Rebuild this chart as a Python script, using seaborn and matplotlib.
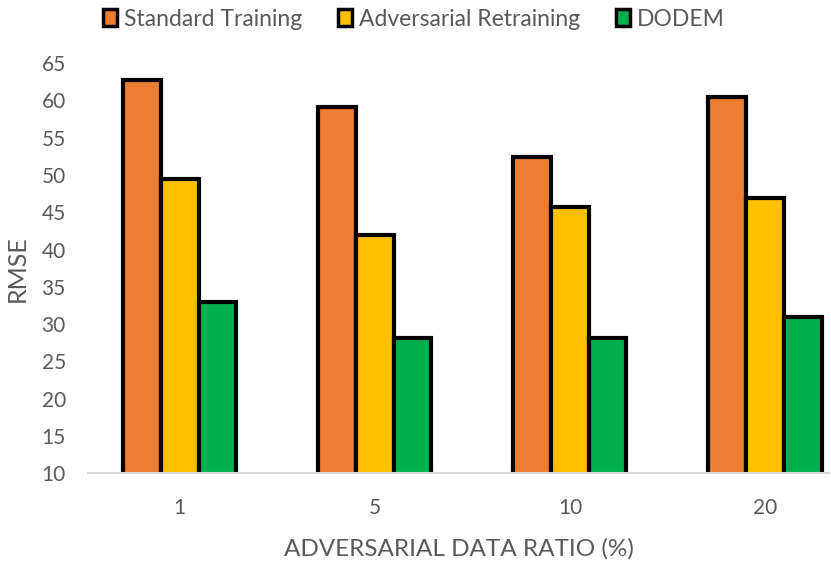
import matplotlib
matplotlib.use("Agg")
import matplotlib.pyplot as plt
import seaborn as sns
import pandas as pd

ratios = ["1", "5", "10", "20"]
methods = ["Standard Training", "Adversarial Retraining", "DODEM"]
standard_training = [62.7, 59.1, 52.4, 60.4]
adversarial_retraining = [49.4, 42.0, 45.7, 46.9]
dodem = [33.0, 28.1, 28.2, 30.9]
colors = ["#ED7D31", "#FFC000", "#00B050"]

rows = []
for m, vals in zip(methods, [standard_training, adversarial_retraining, dodem]):
    for r, v in zip(ratios, vals):
        rows.append({"ratio": r, "method": m, "rmse": v})
df = pd.DataFrame(rows)

sns.set_theme(style="white")
plt.rcParams['font.family'] = ['Lato', 'DejaVu Sans']

fig = plt.figure(figsize=(8.31, 5.64), dpi=100)
ax = fig.add_axes([0.106, 0.161, 0.892, 0.727])

sns.barplot(data=df, x="ratio", y="rmse", hue="method", order=ratios,
            hue_order=methods, palette=colors, width=0.58, ax=ax,
            edgecolor="black", linewidth=3.0, saturation=1, errorbar=None)

ax.set_ylim(10, 65)
ax.set_yticks(range(10, 66, 5))
ax.set_xlim(-0.47, 3.33)
ax.tick_params(axis="both", length=0, labelsize=15, colors="#595959")
ax.tick_params(axis="x", pad=18)
ax.tick_params(axis="y", pad=16)
ax.set_ylabel("RMSE", fontsize=18, color="#595959", labelpad=9)
ax.set_xlabel("ADVERSARIAL DATA RATIO (%)", fontsize=17.5, color="#595959", labelpad=14)
for s in ["top", "right", "left"]:
    ax.spines[s].set_visible(False)
ax.spines["bottom"].set_color("#D9D9D9")
ax.spines["bottom"].set_linewidth(1.5)

handles, labels = ax.get_legend_handles_labels()
ax.get_legend().remove()
for h in handles:
    h.set_linewidth(2.5)
fig.legend(handles, labels, loc="center", bbox_to_anchor=(0.498, 0.966),
           ncol=3, frameon=False, fontsize=16.5, handlelength=0.62, handleheight=0.75,
           handletextpad=0.3, columnspacing=1.55, labelcolor="#595959")

fig.savefig("out.png", dpi=100)
